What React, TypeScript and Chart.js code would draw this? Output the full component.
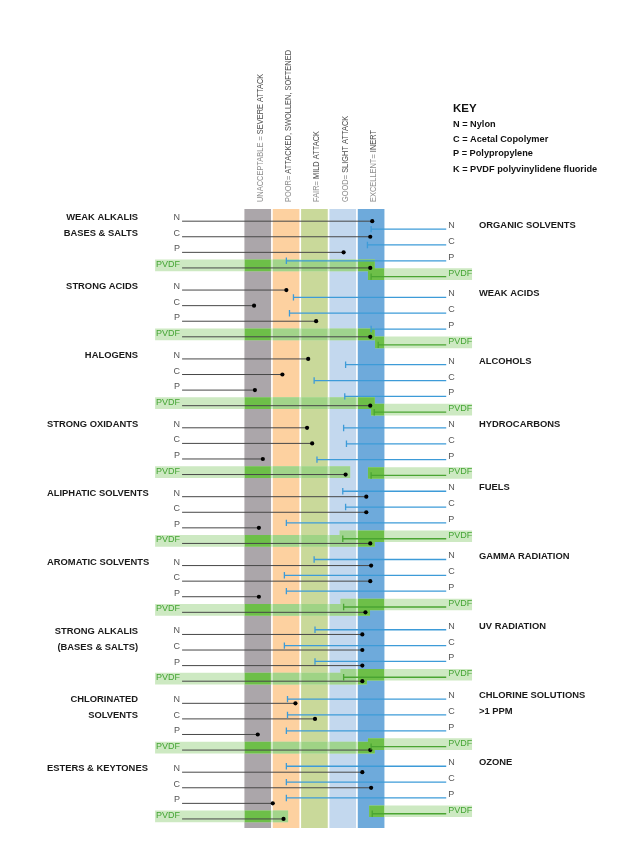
import { useEffect, useRef } from 'react';
import { Chart, registerables } from 'chart.js';

Chart.register(...registerables);

// ---------------- data ----------------
const materials = ['N', 'C', 'P', 'PVDF'];

const ratingLight = ['UNACCEPTABLE = ', 'POOR= ', 'FAIR= ', 'GOOD= ', 'EXCELLENT= '];
const ratingDark = ['SEVERE ATTACK', 'ATTACKED, SWOLLEN, SOFTENED', 'MILD ATTACK', 'SLIGHT ATTACK', 'INERT'];

const leftGroups = [
  ['WEAK ALKALIS', 'BASES & SALTS'],
  ['STRONG ACIDS'],
  ['HALOGENS'],
  ['STRONG OXIDANTS'],
  ['ALIPHATIC SOLVENTS'],
  ['AROMATIC SOLVENTS'],
  ['STRONG ALKALIS', '(BASES & SALTS)'],
  ['CHLORINATED', 'SOLVENTS'],
  ['ESTERS & KEYTONES'],
];

const rightGroups = [
  ['ORGANIC SOLVENTS'],
  ['WEAK ACIDS'],
  ['ALCOHOLS'],
  ['HYDROCARBONS'],
  ['FUELS'],
  ['GAMMA RADIATION'],
  ['UV RADIATION'],
  ['CHLORINE SOLUTIONS', '>1 PPM'],
  ['OZONE'],
];

// rating position: 0..5 across the five rating columns (0-1 unacceptable ... 4-5 excellent)
const leftNylon = [4.54, 1.51, 2.28, 2.24, 4.33, 4.5, 4.19, 1.83, 4.19];
const leftAcetal = [4.47, 0.37, 1.37, 2.42, 4.33, 4.47, 4.19, 2.52, 4.5];
const leftPolypropylene = [3.53, 2.56, 0.4, 0.68, 0.54, 0.54, 4.19, 0.5, 1.03];
const leftPVDF = [4.47, 4.47, 4.47, 3.6, 4.47, 4.3, 4.19, 4.47, 1.41];

const rightNylon = [4.5, 1.76, 3.6, 3.53, 3.5, 2.49, 2.52, 1.55, 1.51];
const rightAcetal = [4.37, 1.62, 2.49, 3.63, 3.6, 1.44, 1.44, 1.55, 1.51];
const rightPolypropylene = [1.51, 4.5, 3.57, 2.59, 1.51, 1.51, 2.52, 1.51, 1.51];
const rightPVDF = [4.5, 4.75, 4.61, 4.5, 3.5, 3.53, 3.53, 4.5, 4.54];

const keyTitle = 'KEY';
const keyLines = ['N = Nylon', 'C = Acetal Copolymer', 'P = Polypropylene', 'K = PVDF polyvinylidene fluoride'];

// ---------------- layout & style ----------------
const W = 635;
const H = 849;
const X_MIN = -8.435;
const X_MAX = 13.652;
const Y_MIN = -13.905;
const Y_MAX = 40.0;
const LEFT_GROUP_STEP = 4.42;
const RIGHT_GROUP_START = [0.51, 4.89, 9.21, 13.27, 17.33, 21.71, 26.22, 30.67, 34.98];
const RIGHT_ROW_STEP = 1.016;
const LEFT_LINE_START = -2.17;
const RIGHT_LINE_END = 7.15;
const LEFT_BAND_START = -3.11;
const RIGHT_BAND_END = 8.05;
const BAND_LEAD = 0.15;
const BAND_TAIL = 0.1;
const BAND_SHIFT = -0.16;
const COL_TOP = -0.76;
const COL_BOTTOM = 38.92;
const COL_INSET = 0.05;

const columnColors = ['#aba6aa', '#fdd1a0', '#c9d99a', '#c3d8ee', '#6eaadb'];
const overlayColors = ['#6dbf48', '#a2d48a', '#9fd385', '#9fd48e', '#6dbf48'];
const bandColor = '#cde9c2';
const leftLineColor = '#474747';
const blueLine = '#3d9bd8';
const greenLine = '#4aa532';
const labelGray = '#555555';
const labelGreen = '#45a535';
const FONT = '"Liberation Sans", Arial, Helvetica, sans-serif';

const leftY = (g: number, r: number) => g * LEFT_GROUP_STEP + r;
const rightY = (g: number, r: number) => RIGHT_GROUP_START[g] + r * RIGHT_ROW_STEP;

function buildDatasets() {
  const leftValues = [leftNylon, leftAcetal, leftPolypropylene, leftPVDF];
  const rightValues = [rightNylon, rightAcetal, rightPolypropylene, rightPVDF];
  const ds: any[] = [];

  columnColors.forEach((c, i) => {
    ds.push({
      type: 'bar',
      indexAxis: 'x',
      grouped: false,
      barThickness: 26,
      data: [{ x: i + 0.5, y: [COL_TOP, COL_BOTTOM] }],
      backgroundColor: c,
      borderWidth: 0,
      order: 10,
    });
  });

  const bands = [
    ...leftPVDF.map((v, g) => ({ y: leftY(g, 3) + BAND_SHIFT, x: [LEFT_BAND_START, v + BAND_LEAD] })),
    ...rightPVDF.map((v, g) => ({ y: rightY(g, 3) + BAND_SHIFT, x: [v - BAND_TAIL, RIGHT_BAND_END] })),
  ];
  ds.push({
    type: 'bar',
    indexAxis: 'y',
    grouped: false,
    barThickness: 11,
    data: bands,
    backgroundColor: bandColor,
    borderWidth: 0,
    order: 9,
  });
  columnColors.forEach((_, i) => {
    const lo = i + COL_INSET;
    const hi = i + 1 - COL_INSET;
    const d = bands
      .filter((b) => b.x[1] > lo && b.x[0] < hi)
      .map((b) => ({ y: b.y, x: [Math.max(lo, b.x[0]), Math.min(hi, b.x[1])] }));
    ds.push({
      type: 'bar',
      indexAxis: 'y',
      grouped: false,
      barThickness: 11,
      data: d,
      backgroundColor: overlayColors[i],
      borderWidth: 0,
      order: 8,
    });
  });

  leftValues.forEach((arr, r) =>
    arr.forEach((v, g) => {
      const y = leftY(g, r);
      ds.push({
        type: 'line',
        data: [
          { x: LEFT_LINE_START, y },
          { x: v, y },
        ],
        borderColor: leftLineColor,
        borderWidth: 1,
        pointRadius: [0, 2.1],
        pointBackgroundColor: '#000',
        pointBorderWidth: 0,
        pointHoverRadius: 0,
        order: 2,
      });
    })
  );

  rightValues.forEach((arr, r) =>
    arr.forEach((v, g) => {
      const y = rightY(g, r);
      const c = r === 3 ? greenLine : blueLine;
      ds.push({
        type: 'line',
        data: [
          { x: v, y },
          { x: RIGHT_LINE_END, y },
        ],
        borderColor: c,
        borderWidth: 1.3,
        pointStyle: 'line',
        pointRotation: 90,
        pointRadius: [3.2, 0],
        pointBorderColor: c,
        pointBorderWidth: 1.3,
        pointHoverRadius: 0,
        order: 1,
      });
    })
  );
  return ds;
}

const textPlugin = {
  id: 'textLabels',
  afterDatasetsDraw(chart: any) {
    const { ctx } = chart;
    const xs = chart.scales.x;
    const ys = chart.scales.y;
    ctx.save();
    ctx.textBaseline = 'middle';

    // rotated column headers
    ratingLight.forEach((light, i) => {
      const x = xs.getPixelForValue(i + 0.5) + 2.5;
      ctx.save();
      ctx.translate(x, 202);
      ctx.rotate(-Math.PI / 2);
      ctx.scale(0.8, 1);
      ctx.font = `9.3px ${FONT}`;
      ctx.textAlign = 'left';
      ctx.fillStyle = '#8f8f8f';
      ctx.fillText(light, 0, 0);
      const w = ctx.measureText(light).width;
      ctx.fillStyle = '#4d4d4d';
      ctx.fillText(ratingDark[i], w, 0);
      ctx.restore();
    });

    // row labels
    ctx.font = `9px ${FONT}`;
    const lx = xs.getPixelForValue(LEFT_LINE_START) - 2;
    const rx = xs.getPixelForValue(RIGHT_LINE_END) + 2;
    leftGroups.forEach((_, g) => {
      materials.forEach((m, r) => {
        ctx.fillStyle = r === 3 ? labelGreen : labelGray;
        ctx.textAlign = 'right';
        ctx.fillText(m, lx, ys.getPixelForValue(leftY(g, r)) - 3.5);
      });
    });
    rightGroups.forEach((_, g) => {
      materials.forEach((m, r) => {
        ctx.fillStyle = r === 3 ? labelGreen : labelGray;
        ctx.textAlign = 'left';
        ctx.fillText(m, rx, ys.getPixelForValue(rightY(g, r)) - 3.5);
      });
    });

    // group labels
    ctx.font = `bold 9.4px ${FONT}`;
    ctx.fillStyle = '#1a1a1a';
    ctx.textAlign = 'left';
    leftGroups.forEach((lines, g) => {
      const y0 = ys.getPixelForValue(leftY(g, 0)) - 3.5;
      lines.forEach((t, k) => {
        const w = ctx.measureText(t).width;
        ctx.fillText(t, Math.max(47, 138 - w), y0 + k * 16);
      });
    });
    rightGroups.forEach((lines, g) => {
      const y0 = ys.getPixelForValue(rightY(g, 0)) - 3.5;
      lines.forEach((t, k) => {
        ctx.fillText(t, 479, y0 + k * 16);
      });
    });

    // key
    ctx.fillStyle = '#111';
    ctx.font = `bold 11.5px ${FONT}`;
    ctx.fillText(keyTitle, 453, 109);
    ctx.font = `bold 9.2px ${FONT}`;
    const keyY = [124, 139, 153, 169];
    keyLines.forEach((t, i) => ctx.fillText(t, 453, keyY[i]));

    ctx.restore();
  },
};

export default function App() {
  const ref = useRef<HTMLCanvasElement | null>(null);
  useEffect(() => {
    if (!ref.current) return;
    const chart = new Chart(ref.current, {
      type: 'scatter',
      data: { datasets: buildDatasets() },
      options: {
        animation: false,
        responsive: false,
        maintainAspectRatio: false,
        events: [],
        layout: { padding: 0 },
        plugins: { legend: { display: false }, tooltip: { enabled: false } },
        scales: {
          x: { type: 'linear', min: X_MIN, max: X_MAX, display: false, offset: false },
          y: { type: 'linear', min: Y_MIN, max: Y_MAX, reverse: true, display: false, offset: false },
        },
      } as any,
      plugins: [textPlugin],
    } as any);
    return () => chart.destroy();
  }, []);
  return (
    <div style={{ position: 'absolute', left: 0, top: 0, width: W, height: H, background: '#fff' }}>
      <canvas ref={ref} width={W} height={H} style={{ display: 'block', width: W, height: H }} />
    </div>
  );
}
